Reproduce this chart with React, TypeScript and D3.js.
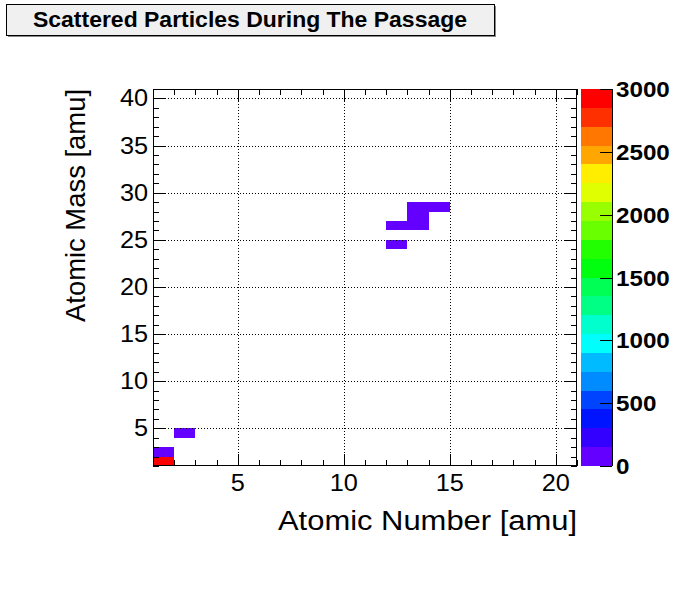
import React from "react";
import * as d3 from "d3";

// ---- data ----
const cellX = [1, 1, 2, 12, 12, 13, 13, 13, 14]; // bin low edge (atomic number)
const cellY = [1, 2, 4, 24, 26, 26, 27, 28, 28]; // bin low edge (atomic mass)
const cellZ = [3000, 40, 30, 20, 25, 25, 20, 30, 20]; // counts
const xMajorTicks = [5, 10, 15, 20];
const yMajorTicks = [5, 10, 15, 20, 25, 30, 35, 40];
const zTicks = [0, 500, 1000, 1500, 2000, 2500, 3000];
const titleText = "Scattered Particles During The Passage";
const xTitle = "Atomic Number [amu]";
const yTitle = "Atomic Mass [amu]";
const xDomain = [1, 21];
const yDomain = [1, 41];
const zDomain = [0, 3000];
const nContours = 20;

const W = 696, H = 598;
const FL = 153, FR = 577, FT = 89, FB = 466;
const PL = 581, PR = 612;
const font = "'Liberation Sans', Arial, Helvetica, sans-serif";
const SX = 1.1;

// ROOT "pretty" palette (50 colours, hue 280 -> 0), sampled for 20 contours
function contourColor(k: number): string {
  const i = Math.floor((k + 0.99) * 50 / nContours);
  const hue = 280 - (i + 1) * (280 / 50);
  return d3.hsl(hue, 1, 0.5).formatHex();
}

export default function App() {
  const x = d3.scaleLinear().domain(xDomain).range([FL, FR]);
  const y = d3.scaleLinear().domain(yDomain).range([FB, FT]);
  const z = d3.scaleLinear().domain(zDomain).range([FB, FT]);
  const zStep = (zDomain[1] - zDomain[0]) / nContours;
  const zBin = (v: number) => Math.min(nContours - 1, Math.floor((v - zDomain[0]) / zStep));

  const xMinor = d3.range(xDomain[0], xDomain[1] + 1, 1);
  const yMinor = d3.range(yDomain[0], yDomain[1] + 1, 1);

  return (
    <svg width={W} height={H} style={{ display: "block", position: "absolute", left: 0, top: 0 }}>
      <rect x={0} y={0} width={W} height={H} fill="#ffffff" />
      {/* title box */}
      <rect x={8} y={6} width={488} height={31} fill="#888" />
      <rect x={6.5} y={4.5} width={488} height={31} fill="#f0f0f0" stroke="#000" strokeWidth={1} />
      <text x={33} y={27} textLength={434} lengthAdjust="spacingAndGlyphs" fontFamily={font} fontWeight="bold" fontSize={22} fill="#000">
        {titleText}
      </text>

      {/* cells */}
      <g shapeRendering="crispEdges">
        {cellX.map((cx, i) => (
          <rect
            key={"c" + i}
            x={x(cx)}
            y={y(cellY[i] + 1)}
            width={x(cx + 1) - x(cx)}
            height={y(cellY[i]) - y(cellY[i] + 1)}
            fill={contourColor(zBin(cellZ[i]))}
          />
        ))}
      </g>

      {/* grid */}
      {xMajorTicks.map((t) => (
        <line key={"gx" + t} x1={Math.round(x(t)) + 0.5} x2={Math.round(x(t)) + 0.5} y1={FT} y2={FB} stroke="#000" strokeWidth={1} strokeDasharray="1 2" />
      ))}
      {yMajorTicks.map((t) => (
        <line key={"gy" + t} x1={FL} x2={FR} y1={Math.round(y(t)) + 0.5} y2={Math.round(y(t)) + 0.5} stroke="#000" strokeWidth={1} strokeDasharray="1 2" />
      ))}

      {/* ticks */}
      {xMinor.map((t) => {
        const len = xMajorTicks.includes(t) ? 12 : 6;
        const px = Math.round(x(t)) + 0.5;
        return (
          <g key={"tx" + t}>
            <line x1={px} x2={px} y1={FB} y2={FB - len} stroke="#000" />
            <line x1={px} x2={px} y1={FT} y2={FT + len} stroke="#000" />
          </g>
        );
      })}
      {yMinor.map((t) => {
        const len = yMajorTicks.includes(t) ? 12 : 6;
        const py = Math.round(y(t)) + 0.5;
        return (
          <g key={"ty" + t}>
            <line x1={FL} x2={FL + len} y1={py} y2={py} stroke="#000" />
            <line x1={FR} x2={FR - len} y1={py} y2={py} stroke="#000" />
          </g>
        );
      })}

      {/* frame */}
      <rect x={FL + 0.5} y={FT + 0.5} width={FR - FL - 1} height={FB - FT - 1} fill="none" stroke="#000" strokeWidth={1} />

      {/* tick labels */}
      {xMajorTicks.map((t) => (
        <text key={"lx" + t} transform={`translate(${x(t)},491) scale(${SX},1)`} textAnchor="middle" fontFamily={font} fontSize={23} fill="#000">
          {t}
        </text>
      ))}
      {yMajorTicks.map((t) => (
        <text key={"ly" + t} transform={`translate(148,${y(t) + 8}) scale(${SX},1)`} textAnchor="end" fontFamily={font} fontSize={23} fill="#000">
          {t}
        </text>
      ))}

      {/* axis titles */}
      <text x={278} y={530} textLength={299} lengthAdjust="spacingAndGlyphs" fontFamily={font} fontSize={27} fill="#000">
        {xTitle}
      </text>
      <text transform={`translate(85, 322) rotate(-90)`} textLength={233} lengthAdjust="spacingAndGlyphs" fontFamily={font} fontSize={28} fill="#000">
        {yTitle}
      </text>

      {/* palette */}
      <g shapeRendering="crispEdges">
        {d3.range(nContours).map((k) => (
          <rect
            key={"p" + k}
            x={PL}
            y={z(zDomain[0] + (k + 1) * zStep)}
            width={PR - PL}
            height={z(zDomain[0] + k * zStep) - z(zDomain[0] + (k + 1) * zStep)}
            fill={contourColor(k)}
          />
        ))}
      </g>
      {zTicks.map((t) => {
        const py = Math.round(z(t)) + 0.5;
        return (
          <g key={"zt" + t}>
            <line x1={PR} x2={PR - 12} y1={py} y2={py} stroke="#000" />
            <text transform={`translate(616,${z(t) + 8}) scale(${SX},1)`} fontFamily={font} fontWeight="bold" fontSize={22} fill="#000">
              {t}
            </text>
          </g>
        );
      })}
      <line x1={PR + 0.5} x2={PR + 0.5} y1={FT} y2={FB} stroke="#000" />
    </svg>
  );
}
